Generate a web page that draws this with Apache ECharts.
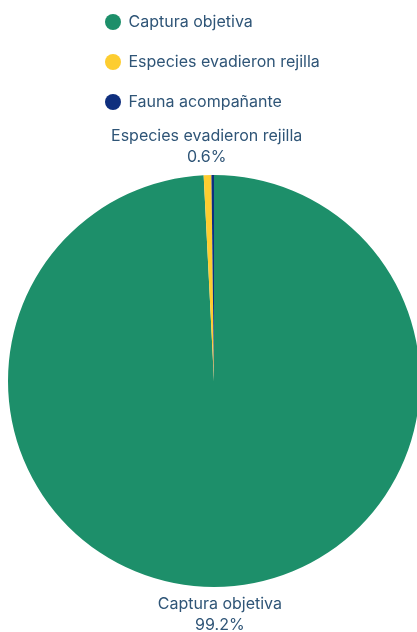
<!DOCTYPE html>
<html>
<head>
<meta charset="utf-8">
<script src="https://cdn.jsdelivr.net/npm/echarts@6/dist/echarts.min.js"></script>
<style>
html,body{margin:0;padding:0;background:#ffffff;}
#main{width:417px;height:632px;}
</style>
</head>
<body>
<div id="main"></div>
<script>
const categories = ['Captura objetiva', 'Especies evadieron rejilla', 'Fauna acompañante'];
const values = [99.2, 0.6, 0.2];
const colors = ['#1d8f6a', '#fdcd30', '#0f2f7e'];

const textColor = '#2f5577';
const chart = echarts.init(document.getElementById('main'));
chart.setOption({
  backgroundColor: '#ffffff',
  color: colors,
  legend: {
    orient: 'vertical',
    left: 100,
    top: 9,
    icon: 'circle',
    itemWidth: 21,
    itemHeight: 16,
    itemGap: 24,
    textStyle: { color: textColor, fontSize: 16, fontFamily: 'Inter' },
    data: categories
  },
  series: [{
    type: 'pie',
    center: [214, 381],
    radius: 206,
    startAngle: 90,
    clockwise: true,
    avoidLabelOverlap: false,
    label: {
      show: true,
      position: 'outside',
      formatter: function (p) { return p.name + '\n' + p.percent.toFixed(1) + '%'; },
      color: textColor,
      fontSize: 16,
      fontFamily: 'Inter',
      lineHeight: 21,
      distanceToLabelLine: 0
    },
    labelLine: { show: false, length: 28, length2: 0 },
    labelLayout: function () { return { align: 'center', hideOverlap: true }; },
    emphasis: { disabled: true },
    data: categories.map(function (n, i) { return { name: n, value: values[i] }; })
  }]
});
</script>
</body>
</html>
